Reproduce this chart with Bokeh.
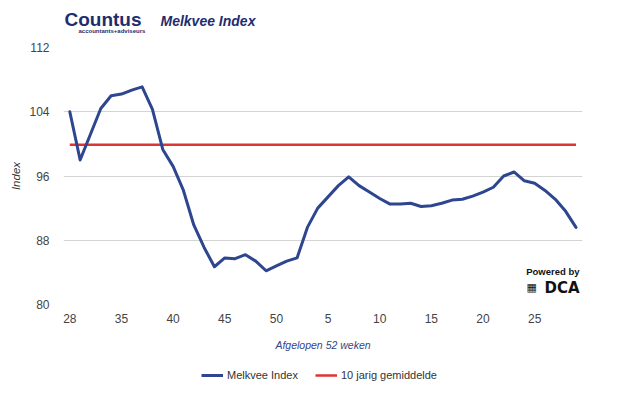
from bokeh.plotting import figure
from bokeh.layouts import column
from bokeh.models import Range1d, FixedTicker, Legend, LegendItem, Label
from bokeh.embed import file_html
from bokeh.resources import INLINE

# ---- data ----
tick_weeks = ["28", "35", "40", "45", "50", "5", "10", "15", "20", "25"]
tick_index = [0, 5, 10, 15, 20, 25, 30, 35, 40, 45]
melkvee_index = [
    104.0, 98.0, 101.2, 104.4, 106.0, 106.2, 106.7, 107.1, 104.3, 99.3,
    97.2, 94.2, 89.9, 87.1, 84.7, 85.8, 85.7, 86.2, 85.4, 84.2,
    84.8, 85.4, 85.8, 89.6, 92.0, 93.4, 94.8, 95.9, 94.8, 94.0,
    93.2, 92.5, 92.5, 92.6, 92.2, 92.3, 92.6, 93.0, 93.1, 93.5,
    94.0, 94.6, 96.0, 96.5, 95.4, 95.1, 94.2, 93.1, 91.6, 89.6,
]
gemiddelde_10jr = 99.9
y_ticks = [80, 88, 96, 104, 112]
series_names = ["Melkvee Index", "10 jarig gemiddelde"]

x = list(range(len(melkvee_index)))
gem = [gemiddelde_10jr] * len(x)

FONT = "Liberation Sans"
NAVY = "#1f2d6e"
BLUE = "#2e4590"
RED = "#dc3535"
W = 625
FRAME_L, FRAME_R = 63, 582   # page pixels of the plot frame (shared by the column)


def bare(fig):
    fig.outline_line_color = None
    fig.axis.visible = False
    fig.grid.visible = False
    fig.border_fill_color = "white"
    fig.background_fill_color = "white"


# ---- header (frame is aligned with the main chart frame) ----
head = figure(width=W, height=40, output_backend="svg", toolbar_location=None,
              x_range=Range1d(FRAME_L, FRAME_R), y_range=Range1d(40, 0), min_border=0)
bare(head)
head.add_layout(Label(x=64, y=19, text="Countus", text_font=FONT,
                      text_font_style="bold", text_font_size="19px",
                      text_color=NAVY, text_baseline="middle"))
head.add_layout(Label(x=78, y=30, text="accountants+adviseurs", text_font=FONT,
                      text_font_style="bold", text_font_size="6px",
                      text_color=NAVY, text_baseline="middle"))
head.add_layout(Label(x=160, y=20, text="Melkvee Index", text_font=FONT,
                      text_font_style="bold italic", text_font_size="14px",
                      text_color=NAVY, text_baseline="middle"))

# ---- main chart ----
p = figure(width=W, height=320, output_backend="svg", toolbar_location=None,
           x_range=Range1d(-0.61, 49.63), y_range=Range1d(80, 112),
           min_border_left=FRAME_L, min_border_right=W - FRAME_R, min_border_top=7,
           min_border_bottom=56)
p.outline_line_color = None
p.background_fill_color = "white"
p.border_fill_color = "white"

r_gem = p.line(x, gem, line_color=RED, line_width=2.5)
r_mv = p.line(x, melkvee_index, line_color=BLUE, line_width=3,
              line_join="round", line_cap="round")

p.xaxis.ticker = FixedTicker(ticks=tick_index)
p.xaxis.major_label_overrides = {i: s for i, s in zip(tick_index, tick_weeks)}
p.yaxis.ticker = FixedTicker(ticks=y_ticks)
for ax in (p.xaxis, p.yaxis):
    ax.axis_line_color = None
    ax.major_tick_line_color = None
    ax.minor_tick_line_color = None
    ax.major_label_text_font = FONT
    ax.major_label_text_font_size = "12px"
    ax.major_label_text_color = "#444444"
    ax.axis_label_text_font = FONT
    ax.axis_label_text_font_style = "italic"
p.xaxis.major_label_standoff = 3
p.yaxis.major_label_standoff = 8
p.xaxis.axis_label = "Afgelopen 52 weken"
p.xaxis.axis_label_text_font_size = "10.5px"
p.xaxis.axis_label_text_color = "#33468a"
p.xaxis.axis_label_standoff = 13
p.yaxis.axis_label = "Index"
p.yaxis.axis_label_text_font_size = "11.5px"
p.yaxis.axis_label_text_color = "#333333"
p.yaxis.axis_label_standoff = 4

p.xgrid.grid_line_color = None
p.ygrid.ticker = FixedTicker(ticks=y_ticks)
p.ygrid.grid_line_color = "#d4d4d4"
p.ygrid.grid_line_width = 1

# powered by logo (inside the plot frame, lower right)
p.add_layout(Label(x=516, y=33.3, x_units="screen", y_units="screen", text="Powered by",
                   text_font=FONT, text_font_style="bold", text_font_size="9.5px",
                   text_color="#111111", text_baseline="middle", text_align="right"))
p.add_layout(Label(x=516, y=17, x_units="screen", y_units="screen", text="DCA",
                   text_font="DejaVu Sans", text_font_style="bold", text_font_size="15px",
                   text_color="#111111", text_baseline="middle", text_align="right"))
p.add_layout(Label(x=463, y=17, x_units="screen", y_units="screen", text="\u25a6",
                   text_font="DejaVu Sans", text_font_size="11px",
                   text_color="#111111", text_baseline="middle", text_align="left"))

# ---- legend strip ----
foot = figure(width=W, height=37, output_backend="svg", toolbar_location=None,
              x_range=Range1d(0, 1), y_range=Range1d(0, 1), min_border=0)
bare(foot)
nan = float("nan")
l_mv = foot.line([0, 1], [nan, nan], line_color=BLUE, line_width=3)
l_gem = foot.line([0, 1], [nan, nan], line_color=RED, line_width=2.5)
legend = Legend(items=[LegendItem(label=series_names[0], renderers=[l_mv]),
                       LegendItem(label=series_names[1], renderers=[l_gem])],
                orientation="horizontal", location=(201 - FRAME_L, 15))
legend.border_line_color = None
legend.background_fill_alpha = 0
legend.label_text_font = FONT
legend.label_text_font_size = "11px"
legend.label_text_color = "#333333"
legend.glyph_width = 22
legend.glyph_height = 14
legend.label_height = 14
legend.label_standoff = 4
legend.spacing = 17
legend.padding = 2
legend.margin = 0
foot.add_layout(legend)

layout = column(head, p, foot, spacing=0)
open("out.html", "w").write(file_html(layout, INLINE))
